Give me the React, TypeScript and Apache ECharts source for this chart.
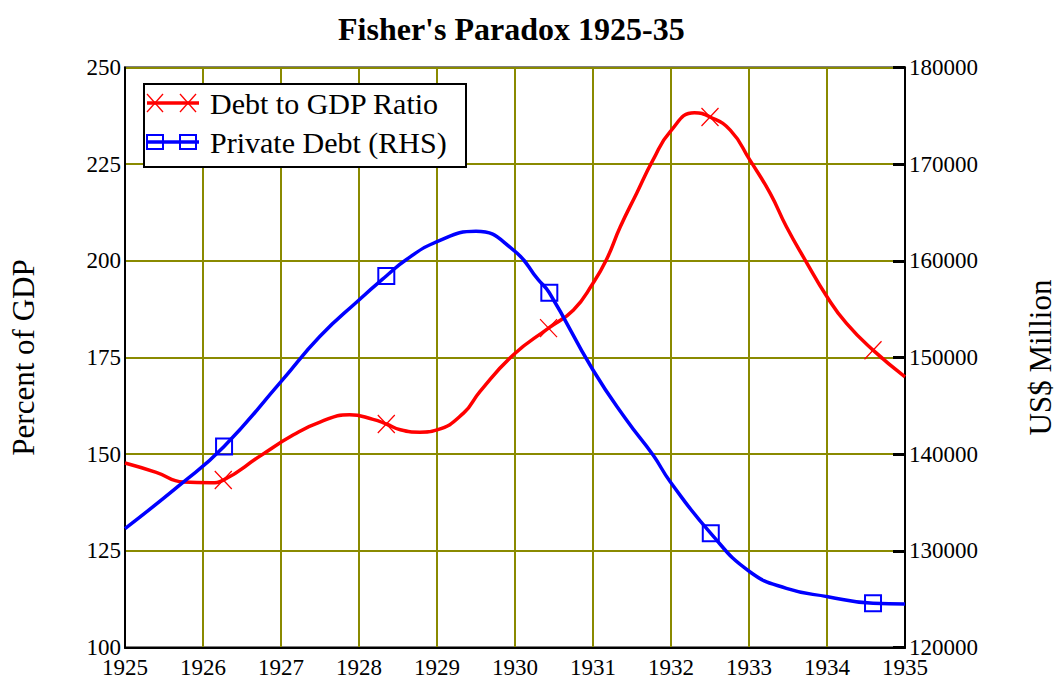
import React, { useEffect, useRef } from "react";
import * as echarts from "echarts";

// ---- data ----
const titleText = "Fisher's Paradox 1925-35";
const leftAxisName = "Percent of GDP";
const rightAxisName = "US$ Million";
const seriesNames = ["Debt to GDP Ratio", "Private Debt (RHS)"];

const debtRatioYears = [
  1925.0, 1925.4, 1925.75, 1926.1, 1926.26, 1926.73, 1927.16, 1927.5, 1927.88,
  1928.18, 1928.35, 1928.53, 1928.78, 1929.0, 1929.34, 1929.55, 1929.98,
  1930.43, 1930.75, 1931.0, 1931.17, 1931.35, 1931.56, 1931.77, 1931.99,
  1932.3, 1932.5, 1932.76, 1933.01, 1933.27, 1933.48, 1933.72, 1934.0,
  1934.25, 1934.59, 1935.0,
];
const debtRatioValues = [
  147.7, 145.3, 142.8, 142.6, 143.3, 149.5, 155.0, 158.3, 160.2,
  159.0, 157.8, 156.3, 155.7, 156.3, 160.6, 166.2, 175.7,
  182.6, 187.3, 194.2, 200.2, 208.8, 217.5, 226.1, 233.4,
  238.3, 237.2, 233.8, 226.1, 217.5, 208.8, 200.2, 190.7,
  183.8, 176.9, 170.0,
];
const debtRatioMarkerYears = [1926.26, 1928.35, 1930.43, 1932.5, 1934.59];

const privateDebtYears = [
  1925.0, 1925.7, 1926.27, 1927.0, 1927.5, 1928.0, 1928.35, 1928.6, 1929.0,
  1929.5, 1929.98, 1930.3, 1930.44, 1931.0, 1931.43, 1931.77, 1931.99,
  1932.51, 1933.01, 1933.48, 1934.01, 1934.59, 1935.0,
];
const privateDebtValues = [
  132300, 136800, 140800, 147500, 152200, 155950, 158430, 160090, 161980,
  163050, 161120, 158020, 156700, 148710, 143530, 139910, 137150,
  131810, 127840, 126120, 125260, 124570, 124500,
];
const privateDebtMarkerYears = [1926.27, 1928.35, 1930.44, 1932.51, 1934.59];

const xTicks = { min: 1925, max: 1935, interval: 1 };
const leftTicks = { min: 100, max: 250, interval: 25 };
const rightTicks = { min: 120000, max: 180000, interval: 10000 };

const FONT = "'Liberation Serif', 'Times New Roman', serif";
const RED = "#ff0000";
const BLUE = "#0000ff";
const GRIDC = "#8a8a00";
const CROSS = "path://M0,0L10,10M10,0L0,10";
const SQUARE = "path://M0,0L10,0L10,10L0,10Z";

function buildData(xs: number[], ys: number[], markers: number[], symbol: string) {
  return xs.map((x, i) => {
    const isMarker = markers.includes(x);
    return isMarker
      ? { value: [x, ys[i]], symbol }
      : { value: [x, ys[i]], symbol: "none" };
  });
}

export default function App() {
  const ref = useRef<HTMLDivElement>(null);
  useEffect(() => {
    if (!ref.current) return;
    const chart = echarts.init(ref.current, undefined, { renderer: "svg" });
    const L = 125, T = 67.5, W = 780, H = 580;
    const legendX = 144, legendY = 84;
    const crossLines = (cx: number, cy: number) => [
      { type: "line", z: 101, shape: { x1: cx - 8, y1: cy - 9, x2: cx + 8, y2: cy + 9 }, style: { stroke: RED, lineWidth: 1.3 } },
      { type: "line", z: 101, shape: { x1: cx + 8, y1: cy - 9, x2: cx - 8, y2: cy + 9 }, style: { stroke: RED, lineWidth: 1.3 } },
    ];
    const sq = (cx: number, cy: number) => ({
      type: "rect", z: 101, shape: { x: cx - 8, y: cy - 7, width: 16, height: 14 },
      style: { fill: "none", stroke: BLUE, lineWidth: 2 },
    });
    chart.setOption({
      animation: false,
      backgroundColor: "#ffffff",
      title: {
        text: titleText,
        left: 333,
        top: 8,
        textStyle: { fontFamily: FONT, fontSize: 32, fontWeight: "bold", color: "#000" },
      },
      grid: {
        left: L, top: T, width: W, height: H,
        outerBoundsMode: "none", containLabel: false,
        show: true, borderColor: "#000", borderWidth: 2, backgroundColor: "transparent",
      },
      xAxis: {
        type: "value",
        min: xTicks.min, max: xTicks.max, interval: xTicks.interval,
        axisLine: { lineStyle: { color: "#000", width: 2 } },
        axisTick: { show: false },
        axisLabel: { formatter: (v: number) => String(v), color: "#000", fontFamily: FONT, fontSize: 23, lineHeight: 18, margin: 11 },
        splitLine: { show: true, lineStyle: { color: GRIDC, width: 2 } },
      },
      yAxis: [
        {
          type: "value",
          min: leftTicks.min, max: leftTicks.max, interval: leftTicks.interval,
          name: leftAxisName, nameLocation: "middle", nameRotate: 90, nameGap: 86,
          nameTextStyle: { fontFamily: FONT, fontSize: 31, color: "#000" },
          axisLine: { show: true, lineStyle: { color: "#000", width: 2 } },
          axisTick: { show: false },
          axisLabel: { formatter: (v: number) => String(v), color: "#000", fontFamily: FONT, fontSize: 23, lineHeight: 18, margin: 4 },
          splitLine: { show: true, lineStyle: { color: GRIDC, width: 2 } },
        },
        {
          type: "value", position: "right",
          min: rightTicks.min, max: rightTicks.max, interval: rightTicks.interval,
          name: rightAxisName, nameLocation: "middle", nameRotate: 90, nameGap: 120,
          nameTextStyle: { fontFamily: FONT, fontSize: 31, color: "#000" },
          axisLine: { show: true, lineStyle: { color: "#000", width: 2 } },
          axisTick: { show: true, inside: true, length: 12, lineStyle: { color: "#000", width: 3 } },
          axisLabel: { formatter: (v: number) => String(v), color: "#000", fontFamily: FONT, fontSize: 23, lineHeight: 18, margin: 4 },
          splitLine: { show: false },
        },
      ],
      series: [
        {
          name: seriesNames[0],
          type: "line",
          yAxisIndex: 0,
          smooth: true,
          symbolSize: [17, 18],
          data: buildData(debtRatioYears, debtRatioValues, debtRatioMarkerYears, CROSS),
          lineStyle: { color: RED, width: 3.5 },
          itemStyle: { color: "none", borderColor: RED, borderWidth: 1.3 },
          z: 3,
        },
        {
          name: seriesNames[1],
          type: "line",
          yAxisIndex: 1,
          smooth: true,
          symbolSize: [16, 16],
          data: buildData(privateDebtYears, privateDebtValues, privateDebtMarkerYears, SQUARE),
          lineStyle: { color: BLUE, width: 3.5 },
          itemStyle: { color: "none", borderColor: BLUE, borderWidth: 2 },
          z: 4,
        },
      ],
      graphic: [
        {
          type: "rect", z: 100,
          shape: { x: legendX, y: legendY, width: 322, height: 83 },
          style: { fill: "#fff", stroke: "#000", lineWidth: 2 },
        },
        { type: "line", z: 101, shape: { x1: 147, y1: 103, x2: 199, y2: 103 }, style: { stroke: RED, lineWidth: 3.5 } },
        ...crossLines(155, 103),
        ...crossLines(188, 103),
        {
          type: "text", z: 101, x: 210, y: 103,
          style: { text: seriesNames[0], fill: "#000", font: `30px ${FONT}`, textVerticalAlign: "middle", verticalAlign: "middle" },
        },
        { type: "line", z: 101, shape: { x1: 147, y1: 142, x2: 199, y2: 142 }, style: { stroke: BLUE, lineWidth: 3.5 } },
        sq(155, 142),
        sq(188, 142),
        {
          type: "text", z: 101, x: 210, y: 142,
          style: { text: seriesNames[1], fill: "#000", font: `30px ${FONT}`, textVerticalAlign: "middle", verticalAlign: "middle" },
        },
      ],
    });
    return () => chart.dispose();
  }, []);
  return (
    <div
      ref={ref}
      style={{ position: "fixed", left: 0, top: 0, width: 1059, height: 679, background: "#fff" }}
    />
  );
}
